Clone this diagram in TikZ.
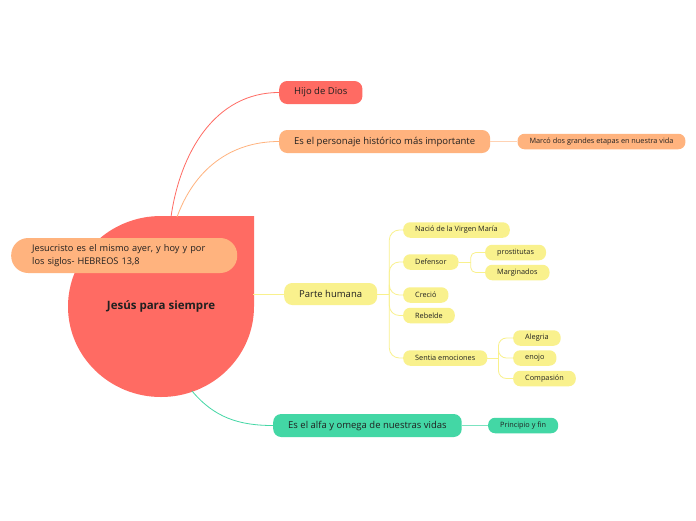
\documentclass[tikz,border=0pt]{standalone}
\usepackage{fontspec}
\setmainfont{Open Sans}
\usetikzlibrary{positioning}
\definecolor{coral}{HTML}{FF6B63}
\definecolor{peach}{HTML}{FFB37E}
\definecolor{peachline}{HTML}{FFD2B3}
\definecolor{lemon}{HTML}{F9F18D}
\definecolor{mint}{HTML}{43D7A5}
\definecolor{ink}{HTML}{202020}

\begin{document}
\begin{tikzpicture}[x=1pt, y=-1pt,
  topic/.style={rounded corners=8pt, minimum height=23pt, inner xsep=15pt, text=ink, font=\fontsize{9.5}{11}\selectfont},
  leaf/.style={rounded corners=7pt, minimum height=15.5pt, inner xsep=12pt, text=ink, font=\fontsize{7.3}{9}\selectfont},
  link/.style={line width=0.8pt},
  fork/.style={line width=0.8pt, draw=lemon, rounded corners=#1},
  fork/.default=10pt
]
  \useasboundingbox[fill=white] (0,0) rectangle (696,520);

  % central topic
  \fill[coral] (254,216) -- (254,306.5) arc[start angle=0, end angle=270, x radius=93, y radius=90.5] -- cycle;
  \node[font=\bfseries\fontsize{11.5}{13}\selectfont, text=ink] (root) at (161,306) {Jesús para siempre};
  \coordinate (roottop) at (171,217);
  \coordinate (roottop2) at (177,217);
  \coordinate (rootbot) at (192,391);
  \coordinate (rootright) at (253,294);

  % main topics
  \node[topic, fill=coral, anchor=west] (hijo) at (279,92.5) {Hijo de Dios};
  \node[topic, fill=peach, anchor=west] (personaje) at (279,141.5) {Es el personaje histórico más importante};
  \node[leaf, fill=peach, right=27pt of personaje] (marco) {Marcó dos grandes etapas en nuestra vida};
  \node[topic, fill=lemon, anchor=west, minimum height=22pt] (parte) at (284,294) {Parte humana};
  \node[topic, fill=mint, anchor=west] (alfa) at (273,425.5) {Es el alfa y omega de nuestras vidas};
  \node[leaf, fill=mint, right=26pt of alfa] (principio) {Principio y fin};

  % parte humana
  \node[leaf, fill=lemon, anchor=west] (nacio) at (403,230) {Nació de la Virgen María};
  \node[leaf, fill=lemon, anchor=west] (defensor) at (403,262) {Defensor};
  \node[leaf, fill=lemon, anchor=west] (crecio) at (403,295) {Creció};
  \node[leaf, fill=lemon, anchor=west] (rebelde) at (403,315.5) {Rebelde};
  \node[leaf, fill=lemon, anchor=west] (sentia) at (403,358) {Sentia emociones};
  \node[leaf, fill=lemon, anchor=west] (prost) at (485,252.5) {prostitutas};
  \node[leaf, fill=lemon, anchor=west] (margin) at (485,272.5) {Marginados};
  \node[leaf, fill=lemon, anchor=west] (alegria) at (513,338) {Alegria};
  \node[leaf, fill=lemon, anchor=west] (enojo) at (513,358) {enojo};
  \node[leaf, fill=lemon, anchor=west] (compasion) at (513,378.5) {Compasión};

  % connectors
  \draw[link, draw=coral] (roottop) to[out=82, in=180] (hijo.west);
  \draw[link, draw=peach] (roottop2) to[out=70, in=180] (personaje.west);
  \draw[line width=1.6pt, draw=peachline] (personaje.east) -- (marco.west);
  \draw[link, draw=mint] (rootbot) to[out=-50, in=180] (alfa.west);
  \draw[line width=1.6pt, draw=mint!70] (alfa.east) -- (principio.west);
  \draw[link, draw=lemon] (rootright) -- (parte.west);

  \coordinate[right=12pt of parte.east] (pfork);
  \draw[link, draw=lemon] (parte.east) -- (pfork);
  \foreach \n in {nacio, defensor, crecio, rebelde, sentia}
    \draw[fork] (pfork) |- (\n.west);

  \coordinate[right=12pt of defensor.east] (dfork);
  \draw[link, draw=lemon] (defensor.east) -- (dfork);
  \foreach \n in {prost, margin}
    \draw[fork=5pt] (dfork) |- (\n.west);

  \coordinate[right=11pt of sentia.east] (sfork);
  \draw[link, draw=lemon] (sentia.east) -- (sfork);
  \foreach \n in {alegria, enojo, compasion}
    \draw[fork=8pt] (sfork) |- (\n.west);

  % quote
  \node[fill=peach, rounded corners=17pt, minimum height=35pt, inner xsep=21pt, text width=184pt, align=left, text=ink, font=\fontsize{9.2}{12.5}\selectfont, anchor=west] (quote) at (11,255.5) {Jesucristo es el mismo ayer, y hoy y por\\los siglos- HEBREOS 13,8};
\end{tikzpicture}
\end{document}
